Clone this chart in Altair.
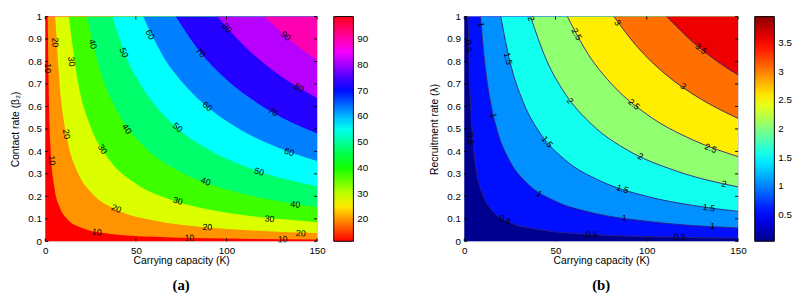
import altair as alt
import pandas as pd

# ---------------- data ----------------
X_TICKS = [0, 50, 100, 150]
Y_TICKS = [0, 0.1, 0.2, 0.3, 0.4, 0.5, 0.6, 0.7, 0.8, 0.9, 1.0]

# Panel (a): contour levels of the response, lines as (K, beta2) points
A_LEVELS = [10, 20, 30, 40, 50, 60, 70, 80, 90]
A_K = [
    [1.3, 2.0, 3.0, 5.0, 8.0, 12, 20, 35, 60, 100, 150],
    [5.5, 8, 12, 18, 25, 40, 60, 90, 120, 150],
    [13, 18, 25, 35, 50, 70, 95, 125, 150],
    [23, 30, 40, 55, 75, 100, 125, 150],
    [37, 45, 55, 70, 90, 115, 150],
    [54, 65, 80, 100, 125, 150],
    [72, 85, 100, 120, 150],
    [95, 110, 125, 150],
    [121, 135, 150],
]
A_B = [
    [1.0, 0.62, 0.40, 0.24, 0.15, 0.10, 0.06, 0.034, 0.02, 0.012, 0.008],
    [1.0, 0.69, 0.46, 0.305, 0.22, 0.138, 0.092, 0.061, 0.046, 0.037],
    [1.0, 0.71, 0.51, 0.366, 0.256, 0.183, 0.135, 0.102, 0.085],
    [1.0, 0.767, 0.575, 0.418, 0.307, 0.23, 0.184, 0.153],
    [1.0, 0.815, 0.667, 0.524, 0.408, 0.319, 0.245],
    [1.0, 0.823, 0.669, 0.535, 0.428, 0.357],
    [1.0, 0.847, 0.72, 0.60, 0.48],
    [1.0, 0.868, 0.764, 0.637],
    [1.0, 0.896, 0.807],
]
A_LAB_T = ["10", "10", "10", "10", "10",
           "20", "20", "20", "20", "20",
           "30", "30", "30", "30",
           "40", "40", "40", "40",
           "50", "50", "50",
           "60", "60", "60",
           "70", "70", "80", "80", "90"]
A_LAB_K = [1.6, 3.6, 28.4, 79.5, 131,
           5.4, 11.7, 39.2, 89.4, 141,
           14.5, 31.6, 73.2, 123.8,
           26.2, 45, 88.5, 138,
           43.4, 73, 118,
           57.8, 89.4, 134.6,
           85.8, 125.6, 100.3, 140, 132.8]
A_LAB_B = [0.77, 0.36, 0.041, 0.015, 0.0087,
           0.885, 0.477, 0.146, 0.063, 0.036,
           0.80, 0.41, 0.18, 0.10,
           0.878, 0.50, 0.266, 0.164,
           0.84, 0.507, 0.31,
           0.92, 0.60, 0.397,
           0.84, 0.576, 0.95, 0.684, 0.914]
A_LAB_ANG = [90, 85, 10, 1, 1,
             87, 79, 24, 5, 2,
             82, 57, 16, 6,
             76, 55, 20, 8,
             67, 40, 18,
             63, 40, 20,
             50, 30, 50, 31, 40]

# Panel (b): recruitment rate lambda
B_LEVELS = [0.5, 1, 1.5, 2, 2.5, 3, 3.5]
B_K = [
    [2.1, 2.6, 3.4, 4.5, 6.5, 10, 15, 25, 40, 70, 110, 150],
    [8.9, 11, 14, 18, 25, 35, 50, 70, 100, 150],
    [20, 25, 32, 42, 55, 75, 100, 125, 150],
    [36.3, 45, 55, 70, 90, 115, 150],
    [56.5, 68, 82, 100, 125, 150],
    [82, 95, 110, 130, 150],
    [111, 125, 138, 150],
]
B_L = [
    [1.0, 0.8, 0.62, 0.47, 0.32, 0.21, 0.14, 0.084, 0.053, 0.03, 0.019, 0.014],
    [1.0, 0.81, 0.636, 0.494, 0.356, 0.254, 0.178, 0.127, 0.089, 0.059],
    [1.0, 0.8, 0.625, 0.476, 0.364, 0.267, 0.2, 0.16, 0.133],
    [1.0, 0.807, 0.66, 0.519, 0.403, 0.316, 0.242],
    [1.0, 0.831, 0.689, 0.565, 0.452, 0.377],
    [1.0, 0.863, 0.745, 0.631, 0.547],
    [1.0, 0.888, 0.804, 0.74],
]
B_LAB_T = ["0.5", "0.5", "0.5", "0.5", "0.5",
           "1", "1", "1", "1", "1",
           "1.5", "1.5", "1.5", "1.5",
           "2", "2", "2", "2",
           "2.5", "2.5", "2.5",
           "3", "3", "3.5"]
B_LAB_K = [2.4, 3.4, 22.2, 69.7, 118,
           9.1, 16, 41, 87.6, 136,
           24, 45.5, 86.7, 134,
           36.6, 58, 96.6, 142.3,
           61.6, 93, 135,
           84, 120, 129.7]
B_LAB_B = [0.87, 0.458, 0.096, 0.030, 0.019,
           0.965, 0.56, 0.212, 0.103, 0.067,
           0.813, 0.443, 0.233, 0.149,
           0.99, 0.625, 0.378, 0.255,
           0.922, 0.61, 0.414,
           0.972, 0.69, 0.857]
B_LAB_ANG = [89, 87, 28, 3, 1,
             85, 77, 33, 8, 3,
             77, 50, 18, 8,
             73, 53, 26, 12,
             61, 39, 21,
             55, 35, 39]

# colour bars (tick values shown on each bar)
A_CBAR_VALUES = [20, 30, 40, 50, 60, 70, 80, 90]
B_CBAR_VALUES = [0.5, 1, 1.5, 2, 2.5, 3, 3.5]

# ---------------- styles ----------------
A_BAND_COLORS = ["#ff0000", "#ff9400", "#dcff00", "#3dff00", "#00ff6a",
                 "#00ffff", "#0080ff", "#2400ff", "#b800ff", "#ff00b0"]
B_BAND_COLORS = ["#000090", "#0010ff", "#0090ff", "#10ffef", "#90ff70",
                 "#ffee00", "#ff7000", "#ee0000"]
A_CMAP_STOPS = [11.5, 26.3, 41.1, 55.9, 70.7, 85.5, 98.8]
A_CMAP_COLORS = ["#ff0000", "#ffff00", "#00ff00", "#00ffff", "#0000ff", "#ff00ff", "#ff0018"]
B_CMAP_STOPS = [0.04, 0.5, 1.5, 2.5, 3.5, 3.96]
B_CMAP_COLORS = ["#00008a", "#0000ff", "#00ffff", "#ffff00", "#ff0000", "#8a0000"]

FONT = "Liberation Sans"
TICK = 3


def panel(levels, Ks, Ys, band_colors, lab_t, lab_k, lab_b, lab_a,
          cstops, ccolors, cvalues, cformat, ytitle, caption, W, H, lines=None):
    xs = alt.Scale(domain=[0, 150], nice=False, zero=False)
    ys = alt.Scale(domain=[0, 1], nice=False, zero=False)
    xaxis = alt.Axis(values=X_TICKS, format="d", ticks=False, domain=False, grid=False,
                     labelFlush=False, labelOverlap=False,
                     labelFont=FONT, labelFontSize=10, labelColor="black", labelPadding=4,
                     title="Carrying capacity (K)", titleFont=FONT, titleFontSize=10.5,
                     titleFontWeight="normal", titleColor="black", titlePadding=1)
    yaxis = alt.Axis(values=Y_TICKS, format=".1~f", ticks=False, domain=False, grid=False,
                     labelFlush=False, labelOverlap=False,
                     labelFont=FONT, labelFontSize=10, labelColor="black", labelPadding=4,
                     title=ytitle, titleFont=FONT, titleFontSize=10.5,
                     titleFontWeight="normal", titleColor="black", titlePadding=7)
    X = alt.X("K:Q", scale=xs, axis=xaxis)
    Y = alt.Y("B:Q", scale=ys, axis=yaxis)

    layers = []
    bg = pd.DataFrame({"K": [0], "K2": [150], "B": [0], "B2": [1]})
    layers.append(alt.Chart(bg).mark_rect(color=band_colors[0]).encode(
        x=X, x2="K2:Q", y=Y, y2="B2:Q"))
    for i, lev in enumerate(levels):
        df = pd.DataFrame({"K": Ks[i], "B": Ys[i]})
        layers.append(alt.Chart(df).mark_area(color=band_colors[i + 1],
                                              interpolate="monotone", clip=True)
                      .encode(x=X, y=Y, y2=alt.datum(1)))
    if lines:
        for i, lev in enumerate(levels):
            df = pd.DataFrame({"K": Ks[i], "B": Ys[i]})
            layers.append(alt.Chart(df).mark_line(color=lines, strokeWidth=0.9,
                                                  interpolate="monotone", clip=True)
                          .encode(x=X, y=Y))
    labs = pd.DataFrame({"K": lab_k, "B": lab_b, "t": lab_t, "a": lab_a})
    layers.append(alt.Chart(labs).mark_text(font=FONT, fontSize=9, color="black")
                  .encode(x=X, y=Y, text="t:N", angle=alt.Angle("a:Q", scale=None)))
    xt = pd.DataFrame({"K": X_TICKS})
    yt = pd.DataFrame({"B": Y_TICKS})
    layers.append(alt.Chart(xt).mark_rule(color="black").encode(
        x=X, y=alt.value(H), y2=alt.value(H - TICK)))
    layers.append(alt.Chart(xt).mark_rule(color="black").encode(
        x=X, y=alt.value(0), y2=alt.value(TICK)))
    layers.append(alt.Chart(yt).mark_rule(color="black").encode(
        y=Y, x=alt.value(0), x2=alt.value(TICK)))
    layers.append(alt.Chart(yt).mark_rule(color="black").encode(
        y=Y, x=alt.value(W), x2=alt.value(W - TICK)))
    cb = pd.DataFrame({"v": [cstops[0], cstops[-1]]})
    layers.append(alt.Chart(cb).mark_point(opacity=0).encode(
        color=alt.Color("v:Q",
                        scale=alt.Scale(domain=cstops, range=ccolors, interpolate="rgb"),
                        legend=alt.Legend(orient="none", legendX=W + 17, legendY=0,
                                          direction="vertical", gradientLength=H,
                                          gradientThickness=20, title=None,
                                          values=cvalues, format=cformat,
                                          labelOverlap=False,
                                          labelFont=FONT, labelFontSize=10,
                                          labelColor="black", labelOffset=4,
                                          gradientStrokeColor="black",
                                          gradientStrokeWidth=1))))
    return alt.layer(*layers).properties(
        width=W, height=H,
        title=alt.Title(caption, orient="bottom", font="Liberation Serif", fontSize=15,
                        fontWeight="bold", color="black", offset=12))


pa = panel(A_LEVELS, A_K, A_B, A_BAND_COLORS, A_LAB_T, A_LAB_K, A_LAB_B, A_LAB_ANG,
           A_CMAP_STOPS, A_CMAP_COLORS, A_CBAR_VALUES, "d",
           "Contact rate (β₂)", "(a)", 277, 229)
pb = panel(B_LEVELS, B_K, B_L, B_BAND_COLORS, B_LAB_T, B_LAB_K, B_LAB_B, B_LAB_ANG,
           B_CMAP_STOPS, B_CMAP_COLORS, B_CBAR_VALUES, ".1~f",
           "Recruitment rate (λ)", "(b)", 279, 229, lines="#32207a")

chart = alt.hconcat(pa, pb, spacing=60).resolve_scale(
    color="independent", x="independent", y="independent").properties(
    padding={"left": 2, "top": 0, "right": 0, "bottom": 0}
).configure_view(stroke="black", strokeWidth=1).configure(background="white")

chart.save("out.html", embed_options={"renderer": "svg", "actions": False})
